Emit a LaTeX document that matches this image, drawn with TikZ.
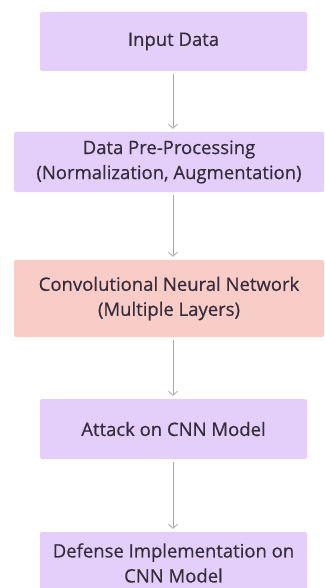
\documentclass[tikz,border=0pt]{standalone}
\usepackage{fontspec}
\setmainfont[FakeBold=0.5]{Open Sans}
\usetikzlibrary{arrows.meta}
\definecolor{lav}{HTML}{E4CFFA}
\definecolor{rose}{HTML}{F8CCC7}
\definecolor{ink}{HTML}{362C3C}
\definecolor{wire}{HTML}{A8A8A8}
\tikzset{
  stepbox/.style={fill=lav, draw=none, rounded corners=2pt, inner sep=0pt,
    text=ink, font=\fontsize{18.5}{25}\selectfont, align=center},
  hotbox/.style={stepbox, fill=rose},
  flow/.style={draw=wire, line width=0.8pt, -{Straight Barb[length=4pt,width=9pt]}, shorten >=3pt}
}
\begin{document}
\begin{tikzpicture}[x=1pt,y=-1pt]
  \useasboundingbox (0,0) rectangle (324,588);
  \node[stepbox, minimum width=267pt, minimum height=59pt] (inp) at (173.5,41.5) {Input Data};
  \node[stepbox, minimum width=310pt, minimum height=60pt] (pre) at (169,162) {Data Pre-Processing\\(Normalization, Augmentation)};
  \node[hotbox, minimum width=310pt, minimum height=77pt] (cnn) at (169,298.5) {Convolutional Neural Network\\(Multiple Layers)};
  \node[stepbox, minimum width=267pt, minimum height=60pt] (atk) at (173.5,429) {Attack on CNN Model};
  \node[stepbox, minimum width=267pt, minimum height=62pt] (def) at (173.5,563) {Defense Implementation on\\CNN Model};
  \draw[flow] ([yshift=-3pt]inp.south -| 173,0) -- (173,0 |- pre.north);
  \draw[flow] ([yshift=-3pt]pre.south -| 173,0) -- (173,0 |- cnn.north);
  \draw[flow] ([yshift=-3pt]cnn.south -| 173,0) -- (173,0 |- atk.north);
  \draw[flow] ([yshift=-3pt]atk.south -| 173,0) -- (173,0 |- def.north);
\end{tikzpicture}
\end{document}
